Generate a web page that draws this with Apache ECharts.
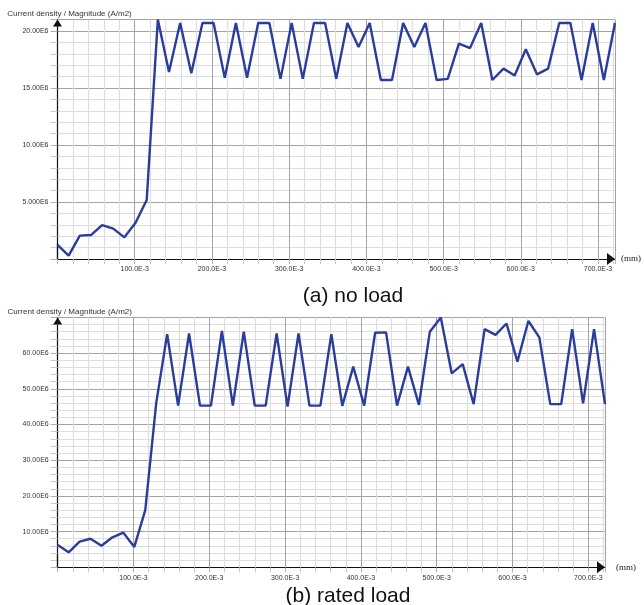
<!DOCTYPE html>
<html>
<head>
<meta charset="utf-8">
<title>Current density</title>
<script src="https://cdn.jsdelivr.net/npm/echarts@6/dist/echarts.min.js"></script>
<style>
html, body { margin: 0; padding: 0; background: #fff; }
#chart { width: 644px; height: 605px; }
</style>
</head>
<body>
<div id="chart"></div>
<script>
// positions along the path (E-3 mm)
const positions = [0, 14.44, 28.88, 43.32, 57.76, 72.2, 86.64, 101.08, 115.52, 129.96,
  144.4, 158.84, 173.28, 187.72, 202.16, 216.6, 231.04, 245.48, 259.92, 274.36,
  288.8, 303.24, 317.68, 332.12, 346.56, 361.0, 375.44, 389.88, 404.32, 418.76,
  433.2, 447.64, 462.08, 476.52, 490.96, 505.4, 519.84, 534.28, 548.72, 563.16,
  577.6, 592.04, 606.48, 620.92, 635.36, 649.8, 664.24, 678.68, 693.12, 707.56, 722.0];

// current density magnitude (E6 A/m2)
const noLoad = [1.23, 0.29, 2.05, 2.1, 2.98, 2.66, 1.9, 3.18, 5.17, 21.0,
  16.4, 20.7, 16.3, 20.7, 20.7, 15.9, 20.7, 15.9, 20.7, 20.7,
  15.8, 20.7, 15.8, 20.7, 20.7, 15.8, 20.7, 18.6, 20.7, 15.7,
  15.7, 20.7, 18.6, 20.7, 15.7, 15.8, 18.9, 18.5, 20.7, 15.7,
  16.7, 16.1, 18.4, 16.2, 16.7, 20.7, 20.7, 15.7, 20.7, 15.7, 20.7];

const ratedLoad = [6.25, 4.2, 7.2, 8.0, 6.05, 8.4, 9.7, 5.7, 16.0, 46.0,
  65.3, 45.3, 65.5, 45.3, 45.3, 66.2, 45.3, 66.0, 45.3, 45.3,
  65.5, 45.0, 65.5, 45.3, 45.3, 65.3, 45.2, 56.2, 45.3, 65.7,
  65.8, 45.3, 56.2, 45.5, 66.0, 70.0, 54.3, 56.9, 45.7, 66.7,
  65.1, 68.3, 57.6, 69.0, 64.4, 45.7, 45.7, 66.7, 45.9, 66.7, 45.7];

const captions = ['(a) no load', '(b) rated load'];
const yName = 'Current density / Magnitude (A/m2)';
const xName = '(mm)';

const lineColor = '#2b3d9c';
const font = 'Liberation Sans, Arial, sans-serif';

function pairs(ys) {
  return ys.map((y, i) => [positions[i], y]);
}

function xAxisFor(gridIndex) {
  return {
    type: 'value',
    gridIndex: gridIndex,
    min: 0,
    max: 722,
    interval: 100,
    name: xName,
    nameLocation: 'end',
    nameGap: gridIndex == 0 ? 6 : 11,
    nameTextStyle: {
      fontFamily: 'Liberation Serif, serif',
      fontSize: 9,
      color: '#222',
      padding: [gridIndex == 0 ? 18 : 12, 0, 0, 0],
    },
    axisLine: {
      show: true,
      onZero: false,
      symbol: ['none', 'triangle'],
      symbolSize: [12, 8],
      symbolOffset: [0, -4],
      lineStyle: { color: '#111', width: 1.2 },
    },
    axisTick: { show: true, length: 5, lineStyle: { color: '#b0b0b0' } },
    minorTick: { show: true, splitNumber: 5, length: 5, lineStyle: { color: '#c8c8c8' } },
    axisLabel: {
      fontFamily: font,
      fontSize: 7,
      color: '#333',
      margin: 7,
      showMaxLabel: false,
      formatter: v => (v == 0 ? '' : v.toFixed(1) + 'E-3'),
    },
    splitLine: { show: true, lineStyle: { color: '#a3a3a3', width: 1 } },
    minorSplitLine: { show: true, lineStyle: { color: '#dedede', width: 1.2 } },
  };
}

// second x axis only to draw the y axis running a bit below zero
function stubAxis(gridIndex, len) {
  return {
    type: 'value',
    gridIndex: gridIndex,
    min: 0,
    max: 722,
    axisLine: { show: false },
    axisLabel: { show: false },
    splitLine: { show: false },
    axisTick: { show: true, length: len, customValues: [0], lineStyle: { color: '#111', width: 1.2 } },
  };
}

function yAxisFor(gridIndex, max, interval) {
  return {
    type: 'value',
    gridIndex: gridIndex,
    min: 0,
    max: max,
    interval: interval,
    name: yName,
    nameLocation: 'end',
    nameGap: 2,
    nameTextStyle: {
      fontFamily: font,
      fontSize: 8,
      color: '#333',
      align: 'center',
      padding: [0, 0, 0, 24],
    },
    axisLine: {
      show: true,
      onZero: false,
      symbol: ['none', 'triangle'],
      symbolSize: [9, 7],
      symbolOffset: [0, -3.5],
      lineStyle: { color: '#111', width: 1.2 },
    },
    axisTick: { show: true, length: 7, lineStyle: { color: '#b0b0b0' } },
    minorTick: { show: true, splitNumber: 5, length: 7, lineStyle: { color: '#c8c8c8' } },
    axisLabel: {
      fontFamily: font,
      fontSize: 7,
      color: '#333',
      margin: 9,
      showMaxLabel: false,
      formatter: v => (v == 0 ? '' : v.toPrecision(4) + 'E6'),
    },
    splitLine: { show: true, lineStyle: { color: '#a3a3a3', width: 1 } },
    minorSplitLine: { show: true, lineStyle: { color: '#dedede', width: 1.2 } },
  };
}

const chart = echarts.init(document.getElementById('chart'), null, { renderer: 'canvas' });

const option = {
  animation: false,
  backgroundColor: '#fff',
  grid: [
    { left: 57.5, top: 19.6, width: 557.5, height: 239.4, outerBoundsMode: 'none' },
    { left: 57.7, top: 317.4, width: 547.3, height: 249.9, outerBoundsMode: 'none' },
  ],
  xAxis: [xAxisFor(0), xAxisFor(1), stubAxis(0, 16), stubAxis(1, 13)],
  yAxis: [yAxisFor(0, 21, 5), yAxisFor(1, 70, 10)],
  series: [
    {
      type: 'line',
      xAxisIndex: 0,
      yAxisIndex: 0,
      data: pairs(noLoad),
      showSymbol: false,
      lineStyle: { color: lineColor, width: 2.4 },
      z: 5,
    },
    {
      type: 'line',
      xAxisIndex: 1,
      yAxisIndex: 1,
      data: pairs(ratedLoad),
      showSymbol: false,
      lineStyle: { color: lineColor, width: 2.4 },
      z: 5,
    },
  ],
  graphic: [
    {
      type: 'text',
      x: 353,
      y: 296,
      style: { text: captions[0], fontFamily: font, fontSize: 21, fill: '#111', align: 'center', verticalAlign: 'middle' },
    },
    {
      type: 'text',
      x: 348,
      y: 596,
      style: { text: captions[1], fontFamily: font, fontSize: 21, fill: '#111', align: 'center', verticalAlign: 'middle' },
    },
  ],
};

chart.setOption(option);
</script>
</body>
</html>
